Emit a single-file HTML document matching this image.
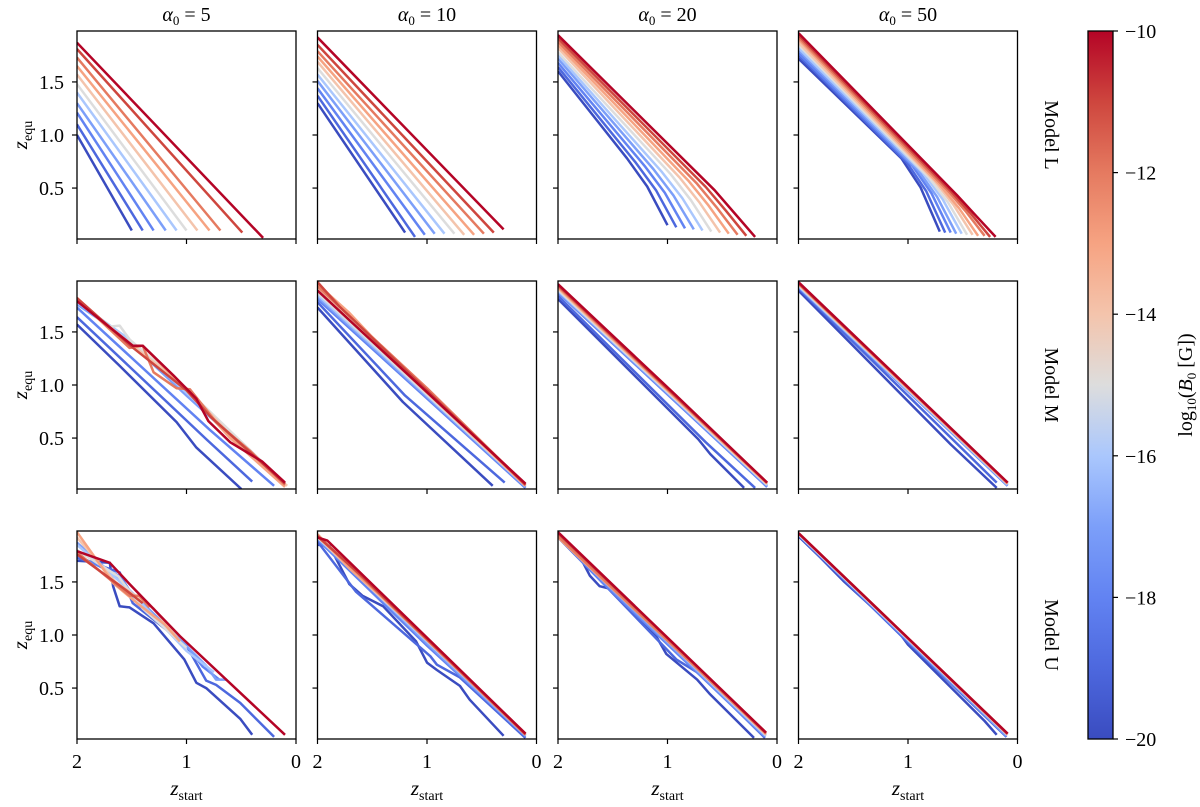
<!DOCTYPE html>
<html><head><meta charset="utf-8">
<style>
html,body{margin:0;padding:0;background:#fff;}
svg{display:block;font-family:"Liberation Serif","DejaVu Serif",serif;}
</style></head>
<body>
<svg id="fig" width="1200" height="807" viewBox="0 0 1200 807" xmlns="http://www.w3.org/2000/svg">
<defs>
<linearGradient id="cbgrad" x1="0" y1="1" x2="0" y2="0">
<stop offset="0" stop-color="rgb(58,76,192)"/>
<stop offset="0.1" stop-color="rgb(77,104,222)"/>
<stop offset="0.2" stop-color="rgb(98,131,242)"/>
<stop offset="0.3" stop-color="rgb(124,159,249)"/>
<stop offset="0.4" stop-color="rgb(170,199,253)"/>
<stop offset="0.5" stop-color="rgb(221,221,221)"/>
<stop offset="0.6" stop-color="rgb(244,196,172)"/>
<stop offset="0.7" stop-color="rgb(246,163,130)"/>
<stop offset="0.8" stop-color="rgb(229,122,96)"/>
<stop offset="0.9" stop-color="rgb(206,70,62)"/>
<stop offset="1" stop-color="rgb(180,4,38)"/>
</linearGradient>
</defs>
</svg>
<script>
// ---- data ----
const alphas = [5, 10, 20, 50];
const models = ["Model L", "Model M", "Model U"];
const b0Values = [-20,-19,-18,-17,-16,-15,-14,-13,-12,-11,-10];
const xTicks = [2, 1, 0];
const yTicks = [0.5, 1.0, 1.5];
const yTickLabels = ["0.5", "1.0", "1.5"];
const cbTicks = [-20, -18, -16, -14, -12, -10];

// each line: list of [z_start, z_equ], ordered by b0Values
const modelL_a5 = [
 [[2,1.00],[1.50,0.10]],[[2,1.10],[1.40,0.10]],[[2,1.21],[1.30,0.10]],[[2,1.30],[1.19,0.10]],
 [[2,1.40],[1.09,0.10]],[[2,1.48],[1.00,0.10]],[[2,1.57],[0.90,0.10]],[[2,1.65],[0.79,0.10]],
 [[2,1.73],[0.69,0.10]],[[2,1.81],[0.49,0.08]],[[2,1.87],[0.30,0.03]]
];
const modelL_a10 = [
 [[2,1.30],[1.20,0.08]],[[2,1.37],[1.11,0.04]],[[2,1.44],[1.02,0.06]],[[2,1.51],[0.93,0.07]],
 [[2,1.57],[0.84,0.07]],[[2,1.63],[0.75,0.07]],[[2,1.69],[0.66,0.06]],[[2,1.74],[0.57,0.06]],
 [[2,1.79],[0.48,0.07]],[[2,1.85],[0.39,0.08]],[[2,1.92],[0.30,0.11]]
];
const modelL_a20 = [
 [[2,1.60],[1.37,0.78],[1.185,0.515],[1.00,0.15]],[[2,1.64],[1.29,0.74],[1.105,0.48],[0.92,0.13]],[[2,1.68],[1.21,0.71],[1.025,0.455],[0.84,0.12]],
 [[2,1.72],[1.13,0.68],[0.945,0.43],[0.76,0.11]],[[2,1.75],[1.05,0.65],[0.865,0.405],[0.68,0.10]],[[2,1.78],[0.97,0.63],[0.785,0.385],[0.60,0.09]],
 [[2,1.82],[0.89,0.60],[0.705,0.36],[0.52,0.08]],[[2,1.85],[0.81,0.57],[0.625,0.335],[0.44,0.07]],[[2,1.88],[0.73,0.54],[0.545,0.31],[0.36,0.06]],
 [[2,1.91],[0.65,0.51],[0.465,0.285],[0.28,0.05]],[[2,1.94],[0.57,0.48],[0.385,0.26],[0.20,0.04]]
];
const modelL_a50 = [
 [[2,1.72],[1.06,0.78],[0.885,0.505],[0.71,0.09]],[[2,1.75],[1.01,0.74],[0.835,0.473],[0.66,0.08]],[[2,1.77],[0.96,0.71],[0.785,0.451],[0.61,0.08]],
 [[2,1.80],[0.91,0.67],[0.735,0.419],[0.56,0.07]],[[2,1.82],[0.86,0.64],[0.685,0.397],[0.51,0.07]],[[2,1.85],[0.81,0.60],[0.635,0.365],[0.46,0.06]],
 [[2,1.87],[0.76,0.57],[0.585,0.343],[0.41,0.06]],[[2,1.90],[0.71,0.53],[0.535,0.311],[0.36,0.05]],[[2,1.92],[0.65,0.49],[0.475,0.284],[0.30,0.05]],
 [[2,1.94],[0.60,0.46],[0.425,0.257],[0.25,0.04]],[[2,1.96],[0.55,0.43],[0.375,0.235],[0.20,0.04]]
];
const modelM_a5 = [
 [[2,1.57],[1.61,1.18],[1.09,0.65],[0.91,0.41],[0.50,0.02]],
 [[2,1.64],[0.82,0.49],[0.40,0.09]],
 [[2,1.73],[0.79,0.58],[0.20,0.05]],
 [[2,1.76],[1.60,1.48],[1.00,0.90],[0.10,0.06]],
 [[2,1.78],[1.55,1.45],[0.10,0.07]],
 [[2,1.80],[1.70,1.55],[1.61,1.56],[1.52,1.43],[1.00,0.96],[0.10,0.07]],
 [[2,1.80],[1.50,1.38],[1.00,0.97],[0.50,0.42],[0.08,0.05]],
 [[2,1.81],[1.52,1.35],[1.40,1.37],[1.00,0.95],[0.60,0.50],[0.10,0.04]],
 [[2,1.82],[1.52,1.35],[1.40,1.37],[1.30,1.12],[1.09,0.97],[0.97,0.96],[0.73,0.65],[0.42,0.38],[0.10,0.06]],
 [[2,1.82],[1.50,1.36],[1.00,0.95],[0.78,0.70],[0.10,0.07]],
 [[2,1.79],[1.49,1.37],[1.40,1.37],[1.12,1.09],[0.91,0.87],[0.80,0.66],[0.60,0.46],[0.31,0.28],[0.10,0.08]]
];
const modelM_a10 = [
 [[2,1.73],[1.22,0.84],[0.40,0.05]],
 [[2,1.78],[1.20,0.90],[0.29,0.08]],
 [[2,1.81],[0.10,0.03]],
 [[2,1.83],[0.10,0.04]],
 [[2,1.85],[0.10,0.05]],
 [[2,1.87],[0.10,0.05]],
 [[2,1.90],[0.10,0.05]],
 [[2,1.95],[1.71,1.68],[1.50,1.45],[0.10,0.05]],
 [[2,1.93],[1.00,0.97],[0.10,0.06]],
 [[2,1.97],[1.80,1.74],[0.10,0.06]],
 [[2,1.89],[0.10,0.07]]
];
const modelM_a20 = [
 [[2,1.81],[0.72,0.49],[0.61,0.35],[0.30,0.03]],
 [[2,1.84],[0.65,0.46],[0.20,0.03]],
 [[2,1.87],[0.09,0.04]],
 [[2,1.88],[0.09,0.05]],
 [[2,1.89],[0.09,0.06]],
 [[2,1.90],[0.09,0.06]],
 [[2,1.91],[0.09,0.07]],
 [[2,1.92],[0.09,0.07]],
 [[2,1.93],[0.09,0.08]],
 [[2,1.94],[0.09,0.08]],
 [[2,1.95],[0.92,0.90],[0.09,0.08]]
];
const modelM_a50 = [
 [[2,1.89],[0.61,0.44],[0.19,0.03]],
 [[2,1.91],[0.19,0.08]],
 [[2,1.92],[0.09,0.05]],
 [[2,1.93],[0.09,0.06]],
 [[2,1.93],[0.09,0.06]],
 [[2,1.94],[0.09,0.07]],
 [[2,1.95],[0.09,0.07]],
 [[2,1.95],[0.09,0.07]],
 [[2,1.96],[0.09,0.08]],
 [[2,1.96],[0.09,0.08]],
 [[2,1.97],[0.09,0.08]]
];
const modelU_a5 = [
 [[2,1.70],[1.70,1.68],[1.67,1.46],[1.61,1.27],[1.52,1.26],[1.30,1.11],[1.02,0.77],[0.91,0.55],[0.82,0.50],[0.51,0.21],[0.40,0.06]],
 [[2,1.73],[1.61,1.59],[1.49,1.30],[1.00,0.90],[0.82,0.57],[0.73,0.53],[0.51,0.36],[0.20,0.04]],
 [[2,1.75],[1.60,1.55],[1.45,1.30],[1.00,0.90],[0.85,0.70],[0.70,0.58]],
 [[2,1.87],[1.60,1.50],[1.20,1.10],[0.82,0.71],[0.73,0.58],[0.63,0.58]],
 [[2,1.85],[1.55,1.45],[1.00,0.85],[0.75,0.65]],
 [[2,1.80],[1.62,1.55],[1.40,1.25],[1.00,0.88]],
 [[2,1.92],[1.65,1.50],[1.30,1.25],[1.06,0.94]],
 [[2,1.97],[1.67,1.49],[1.45,1.30],[1.20,1.10],[1.06,0.94]],
 [[2,1.78],[1.52,1.37],[1.43,1.37],[1.34,1.26]],
 [[2,1.76],[1.55,1.42],[1.40,1.30]],
 [[2,1.79],[1.70,1.68],[1.52,1.48],[1.06,0.99],[0.10,0.06]]
];
const modelU_a10 = [
 [[2,1.85],[1.89,1.84],[1.71,1.48],[1.59,1.37],[1.40,1.27],[1.10,0.94],[1.00,0.74],[0.91,0.67],[0.70,0.52],[0.61,0.39],[0.30,0.05]],
 [[2,1.88],[1.65,1.41],[0.97,0.80],[0.91,0.72],[0.70,0.60],[0.10,0.03]],
 [[2,1.90],[1.70,1.60],[1.00,0.90],[0.10,0.05]],
 [[2,1.91],[1.60,1.53],[1.00,0.92],[0.10,0.05]],
 [[2,1.92],[1.00,0.94],[0.10,0.06]],
 [[2,1.92],[1.60,1.55],[1.00,0.95],[0.10,0.06]],
 [[2,1.93],[1.70,1.62],[1.00,0.96],[0.10,0.06]],
 [[2,1.95],[1.70,1.62],[1.40,1.35],[0.10,0.06]],
 [[2,1.94],[1.60,1.55],[0.10,0.06]],
 [[2,1.93],[1.60,1.56],[0.10,0.07]],
 [[2,1.92],[1.91,1.89],[0.10,0.07]]
];
const modelU_a20 = [
 [[2,1.95],[1.80,1.74],[1.71,1.56],[1.62,1.46],[1.50,1.43],[1.40,1.29],[1.11,1.00],[1.01,0.82],[0.73,0.58],[0.61,0.44],[0.21,0.03]],
 [[2,1.92],[1.59,1.49],[0.92,0.77],[0.70,0.63],[0.11,0.03]],
 [[2,1.93],[1.60,1.50],[0.11,0.04]],
 [[2,1.93],[1.60,1.52],[0.11,0.05]],
 [[2,1.94],[0.10,0.05]],
 [[2,1.94],[0.10,0.06]],
 [[2,1.95],[0.10,0.06]],
 [[2,1.92],[0.10,0.07]],
 [[2,1.93],[0.10,0.07]],
 [[2,1.96],[0.10,0.08]],
 [[2,1.97],[0.10,0.08]]
];
const modelU_a50 = [
 [[2,1.93],[1.80,1.73],[1.59,1.51],[1.10,1.05],[1.00,0.91],[0.30,0.19],[0.19,0.06]],
 [[2,1.94],[1.00,0.93],[0.10,0.04]],
 [[2,1.94],[0.10,0.05]],
 [[2,1.95],[0.10,0.05]],
 [[2,1.95],[0.09,0.06]],
 [[2,1.95],[0.09,0.06]],
 [[2,1.96],[0.09,0.06]],
 [[2,1.96],[0.09,0.07]],
 [[2,1.96],[0.09,0.07]],
 [[2,1.96],[0.09,0.07]],
 [[2,1.96],[0.09,0.07]]
];
const panelData = [
 [modelL_a5, modelL_a10, modelL_a20, modelL_a50],
 [modelM_a5, modelM_a10, modelM_a20, modelM_a50],
 [modelU_a5, modelU_a10, modelU_a20, modelU_a50]
];

// ---- layout ----
const NS = "http://www.w3.org/2000/svg";
const svg = document.getElementById("fig");
const colLeft = [77, 317.5, 558, 798.5];
const rowTop = [31, 281, 531];
const PW = 219, PH = 208;
const xMin = 2, xMax = 0, yMin = 0.02, yMax = 1.98;
const cbX = 1088, cbW = 25, cbTop = 31, cbBot = 739, cbMin = -20, cbMax = -10;

function xScale(c, v){ return colLeft[c] + (v - xMin) / (xMax - xMin) * PW; }
function yScale(r, v){ return rowTop[r] + PH - (v - yMin) / (yMax - yMin) * PH; }
function cbScale(v){ return cbBot - (v - cbMin) / (cbMax - cbMin) * (cbBot - cbTop); }

const cmAnchors = [[58,76,192],[77,104,222],[98,131,242],[124,159,249],[170,199,253],[221,221,221],[244,196,172],[246,163,130],[229,122,96],[206,70,62],[180,4,38]];
function coolwarm(t){
  t = Math.max(0, Math.min(1, t));
  const p = t * 10, i = Math.min(9, Math.floor(p)), f = p - i;
  const a = cmAnchors[i], b = cmAnchors[i+1];
  return "rgb(" + [0,1,2].map(k => Math.round(a[k] + (b[k]-a[k]) * f)).join(",") + ")";
}
function el(tag, attrs, parent){
  const e = document.createElementNS(NS, tag);
  for (const k in attrs) e.setAttribute(k, attrs[k]);
  (parent || svg).appendChild(e);
  return e;
}

for (let r = 0; r < 3; r++){
  for (let c = 0; c < 4; c++){
    const g = el("g", {});
    
    
    const clipId = "clip" + r + c;
    const cp = el("clipPath", {id: clipId}, g);
    el("rect", {x: colLeft[c], y: rowTop[r], width: PW, height: PH}, cp);
    const lines = panelData[r][c];
    lines.forEach((pts, i) => {
      const d = pts.map((p, j) => (j ? "L" : "M") + xScale(c, p[0]).toFixed(1) + "," + yScale(r, p[1]).toFixed(1)).join("");
      const path = el("path", {d: d, fill: "none", stroke: coolwarm((b0Values[i] - cbMin) / (cbMax - cbMin)), "stroke-width": 2.5, "stroke-linejoin": "round", "clip-path": "url(#" + clipId + ")"}, g);
      
      
    });
    const frame = el("rect", {x: colLeft[c], y: rowTop[r], width: PW, height: PH, fill: "none", stroke: "#000", "stroke-width": 1.3}, g);
    
    
    xTicks.forEach(v => {
      const x = xScale(c, v);
      const t = el("line", {x1: x, x2: x, y1: rowTop[r] + PH, y2: rowTop[r] + PH + 5, stroke: "#000", "stroke-width": 1.2}, g);
      
      
      if (r === 2){
        const tl = el("text", {x: x, y: rowTop[r] + PH + 29, "text-anchor": "middle", "font-size": 20}, g);
        tl.textContent = String(v);
        
        
      }
    });
    yTicks.forEach((v, k) => {
      const y = yScale(r, v);
      const t = el("line", {x1: colLeft[c] - 5, x2: colLeft[c], y1: y, y2: y, stroke: "#000", "stroke-width": 1.2}, g);
      
      
      if (c === 0){
        const tl = el("text", {x: colLeft[c] - 13, y: y + 7, "text-anchor": "end", "font-size": 20}, g);
        tl.textContent = yTickLabels[k];
        
        
      }
    });
  }
}

// column titles
alphas.forEach((a, c) => {
  const t = el("text", {x: colLeft[c] + PW/2, y: 21, "text-anchor": "middle", "font-size": 20});
  t.innerHTML = '<tspan font-style="italic">α</tspan><tspan font-size="13" dy="4">0</tspan><tspan dy="-4"> =  ' + a + '</tspan>';
  
  
});
// x axis labels
for (let c = 0; c < 4; c++){
  const t = el("text", {x: colLeft[c] + PW/2, y: 795, "text-anchor": "middle", "font-size": 21});
  t.innerHTML = '<tspan font-style="italic">z</tspan><tspan font-size="14" dy="5">start</tspan>';
  
  
}
// y axis labels
for (let r = 0; r < 3; r++){
  const cy = rowTop[r] + PH/2;
  const t = el("text", {x: 0, y: 0, "text-anchor": "middle", "font-size": 21, transform: "translate(27," + cy + ") rotate(-90)"});
  t.innerHTML = '<tspan font-style="italic">z</tspan><tspan font-size="14" dy="5">equ</tspan>';
  
  
  const m = el("text", {x: 0, y: 0, "text-anchor": "middle", "font-size": 20, transform: "translate(1045," + cy + ") rotate(90)"});
  m.textContent = models[r];
  
  
}
// colorbar
const cb = el("rect", {x: cbX, y: cbTop, width: cbW, height: cbBot - cbTop, fill: "url(#cbgrad)", stroke: "#000", "stroke-width": 1.3});


cbTicks.forEach(v => {
  const y = cbScale(v);
  const t = el("line", {x1: cbX + cbW, x2: cbX + cbW + 5, y1: y, y2: y, stroke: "#000", "stroke-width": 1.2});
  
  
  const tl = el("text", {x: cbX + cbW + 12, y: y + 7, "font-size": 20});
  tl.textContent = "\u2212" + Math.abs(v);
  
  
});
const cbl = el("text", {x: 0, y: 0, "text-anchor": "middle", "font-size": 20, transform: "translate(1192," + ((cbTop + cbBot)/2) + ") rotate(-90)"});
cbl.innerHTML = 'log<tspan font-size="13" dy="4">10</tspan><tspan dy="-4">(</tspan><tspan font-style="italic">B</tspan><tspan font-size="13" dy="4">0</tspan><tspan dy="-4"> [G])</tspan>';


</script>
</body></html>
